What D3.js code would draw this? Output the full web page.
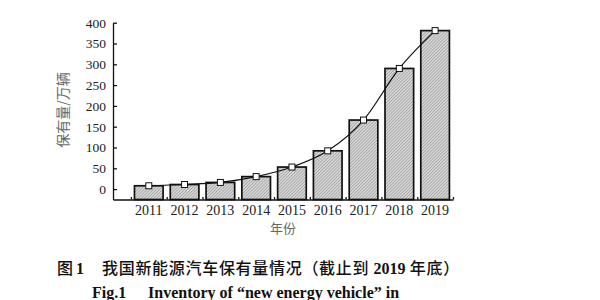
<!DOCTYPE html>
<html>
<head>
<meta charset="utf-8">
<script src="https://cdn.jsdelivr.net/npm/d3@7"></script>
<style>
  body { margin: 0; background: #fff; }
  svg { display: block; }
</style>
</head>
<body>
<div id="chart"></div>
<script>
// data
var years = [2011, 2012, 2013, 2014, 2015, 2016, 2017, 2018, 2019];
var stock = [8, 11, 16, 30, 53, 92, 166, 290, 381];
var yTicks = [0, 50, 100, 150, 200, 250, 300, 350, 400];

var width = 600, height = 300;

var svg = d3.select("#chart")
            .append("svg")
            .attr("width", width)
            .attr("height", height);

// fine hatch pattern for bars
var defs = svg.append("defs");
var pat = defs.append("pattern")
              .attr("id", "hatch")
              .attr("patternUnits", "userSpaceOnUse")
              .attr("width", 2.2)
              .attr("height", 2.2)
              .attr("patternTransform", "rotate(45)");
pat.append("rect")
   .attr("width", 2.2).attr("height", 2.2)
   .attr("fill", "#d6d6d6");
pat.append("line")
   .attr("x1", 0).attr("y1", 0).attr("x2", 0).attr("y2", 2.2)
   .attr("stroke", "#8a8a8a")
   .attr("stroke-width", 1);

// scales
var x = d3.scaleLinear()
          .domain([2010, 2019.5])
          .range([113, 453]);
var y = d3.scaleLinear()
          .domain([-25, 400])
          .range([199.5, 22.7]);

var serif = "'Liberation Serif', 'Times New Roman', serif";
var cjk = "'Noto Sans CJK SC', sans-serif";

// Y axis
var yAxis = svg.append("g")
   .attr("transform", "translate(" + x(2010) + ",0)")
   .call(d3.axisLeft(y)
           .tickValues(yTicks)
           .tickSizeInner(-4)
           .tickSizeOuter(0)
           .tickPadding(7));
yAxis.selectAll("text")
     .style("font-family", serif)
     .style("font-size", "13.5px")
     .attr("fill", "#222");
yAxis.selectAll("line, path").attr("stroke", "#111").attr("stroke-width", 1.3);

// X axis: little inward ticks between the bars
var halfYears = years.map(function(d) { return d - 0.5; }).concat([2019.5]);
var xAxis = svg.append("g")
   .attr("transform", "translate(0," + y(-25) + ")")
   .call(d3.axisBottom(x)
           .tickValues(halfYears)
           .tickSizeInner(-2.5)
           .tickSizeOuter(0)
           .tickFormat(""));
xAxis.selectAll("line, path").attr("stroke", "#111").attr("stroke-width", 1.3);

// year labels
svg.append("g")
   .selectAll("text")
   .data(years)
   .enter()
   .append("text")
   .attr("x", function(d) { return x(d); })
   .attr("y", 215)
   .attr("text-anchor", "middle")
   .style("font-family", serif)
   .style("font-size", "14px")
   .attr("fill", "#222")
   .text(function(d) { return d; });

// bars
var rows = years.map(function(d, i) { return { year: d, value: stock[i] }; });
svg.append("g")
   .selectAll("rect")
   .data(rows)
   .enter()
   .append("rect")
   .attr("x", function(d) { return x(d.year - 0.4); })
   .attr("y", function(d) { return y(d.value); })
   .attr("width", x(2010.8) - x(2010))
   .attr("height", function(d) { return y(-25) - y(d.value); })
   .attr("fill", "url(#hatch)")
   .attr("stroke", "#111")
   .attr("stroke-width", 1.7);

// smooth line
svg.append("path")
   .datum(rows)
   .attr("fill", "none")
   .attr("stroke", "#111")
   .attr("stroke-width", 1.2)
   .attr("d", d3.line()
                .curve(d3.curveCardinal)
                .x(function(d) { return x(d.year); })
                .y(function(d) { return y(d.value); }));

// square markers
svg.append("g")
   .selectAll("rect")
   .data(rows)
   .enter()
   .append("rect")
   .attr("x", function(d) { return x(d.year) - 3; })
   .attr("y", function(d) { return y(d.value) - 3; })
   .attr("width", 6)
   .attr("height", 6)
   .attr("fill", "#fff")
   .attr("stroke", "#111")
   .attr("stroke-width", 1);

// axis titles
svg.append("text")
   .attr("transform", "translate(68,110) rotate(-90)")
   .attr("text-anchor", "middle")
   .style("font-family", cjk)
   .style("font-size", "14px")
   .attr("fill", "#666")
   .text("保有量/万辆");

svg.append("text")
   .attr("x", (x(2010) + x(2019.5)) / 2)
   .attr("y", 233)
   .attr("text-anchor", "middle")
   .style("font-family", cjk)
   .style("font-size", "13px")
   .attr("fill", "#666")
   .text("年份");

// caption, Chinese line
var cap = svg.append("text")
   .attr("y", 274)
   .style("font-family", cjk)
   .style("font-size", "16px")
   .style("font-weight", "500")
   .attr("fill", "#111");
cap.append("tspan").attr("x", 57).text("图");
cap.append("tspan").attr("x", 76).style("font-family", serif).style("font-weight", "bold").text("1");
cap.append("tspan").attr("x", 102).style("letter-spacing", "0.7px").text("我国新能源汽车保有量情况（截止到 ");
cap.append("tspan").style("font-family", serif).style("font-weight", "bold").text("2019");
cap.append("tspan").style("letter-spacing", "0.7px").text(" 年底）");

// caption, English line (cut by the bottom edge as in the source)
var cap2 = svg.append("text")
   .attr("y", 298)
   .style("font-family", serif)
   .style("font-size", "16px")
   .style("font-weight", "bold")
   .attr("fill", "#111");
cap2.append("tspan").attr("x", 92).text("Fig.1");
cap2.append("tspan").attr("x", 148).text("Inventory of \u201cnew energy vehicle\u201d in");
</script>
</body>
</html>
